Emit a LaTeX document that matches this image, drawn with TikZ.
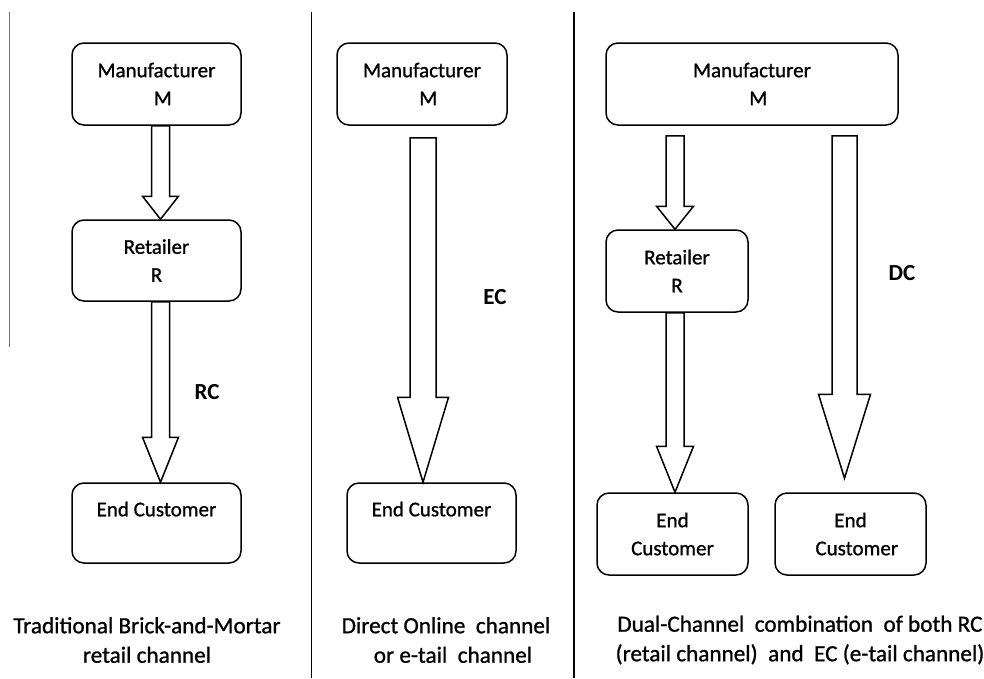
\documentclass[tikz,border=0pt]{standalone}
\usepackage{fontspec}
\setmainfont{Carlito}
\newfontfamily\heavyish{Carlito}[FakeBold=0.9]
\usetikzlibrary{calc}
\tikzset{
  box/.style={draw, line width=1.5pt, rounded corners=12pt, align=center, inner sep=0pt,
    font=\fontsize{21}{28}\heavyish},
  barrowstyle/.style={draw, line width=1.5pt, line join=miter, fill=white},
  chlabel/.style={font=\fontsize{23}{28}\selectfont\bfseries},
  caption/.style={align=center, font=\fontsize{23.2}{29.5}\heavyish},
  divider/.style={line width=1.7pt, black},
  thinline/.style={line width=0.9pt, black!55}
}
% #1 start coordinate, #2 tip coordinate, #3 half shaft, #4 half head, #5 head length
\newcommand\blockarrow[5]{%
  \draw[barrowstyle] let \p1=(#1), \p2=(#2) in
    (\x1-#3pt,\y1) -- (\x1+#3pt,\y1) -- (\x1+#3pt,\y2+#5pt) -- (\x1+#4pt,\y2+#5pt)
    -- (\x1,\y2) -- (\x1-#4pt,\y2+#5pt) -- (\x1-#3pt,\y2+#5pt) -- cycle;}
\begin{document}
\begin{tikzpicture}[x=1pt,y=-1pt]
\useasboundingbox[fill=white] (0,0) rectangle (984,678);
% separators
\draw[thinline] (9.5,12) -- (9.5,347);
\draw[divider] (311.5,12) -- (311.5,678);
\draw[divider] (574,12) -- (574,678);

% ---- panel 1
\node[box, minimum width=169pt, minimum height=82pt] (m1) at (156.5,84) {Manufacturer\\\hspace*{0.6em}M};
\node[box, minimum width=169pt, minimum height=81pt] (r1) at (156.5,260.5) {Retailer\\R};
\node[box, minimum width=169pt, minimum height=80pt] (e1) at (156.5,523) {End Customer\\~};
\coordinate (a1s) at ($(m1.south)+(4,0)$);
\coordinate (a1t) at ($(r1.north)+(4,0)$);
\coordinate (a2s) at ($(r1.south)+(4,0)$);
\coordinate (a2t) at ($(e1.north)+(4,0)$);
\blockarrow{a1s}{a1t}{9}{18}{23}
\blockarrow{a2s}{a2t}{9}{18}{45}
\node[chlabel] (rc) at (207,392) {RC};
\node[caption] (c1) at (147,640) {Traditional Brick-and-Mortar\\retail channel};

% ---- panel 2
\node[box, minimum width=170pt, minimum height=82pt] (m2) at (422,84) {Manufacturer\\\hspace*{0.6em}M};
\node[box, minimum width=169pt, minimum height=80pt] (e2) at (431.5,523) {End Customer\\~};
\coordinate (a3s) at ($(m2.south)+(1,12)$);
\coordinate (a3t) at ($(e2.north)+(-8.5,0)$);
\blockarrow{a3s}{a3t}{13}{25.5}{85}
\node[chlabel] (ec) at (495,297) {EC};
\node[caption] (c2) at (446,640) {Direct Online\ \ channel\\\hspace*{0.6em}or e-tail\ \ channel};

% ---- panel 3
\node[box, minimum width=292pt, minimum height=82pt] (m3) at (752,84) {Manufacturer\\\hspace*{0.6em}M};
\node[box, minimum width=142pt, minimum height=82pt] (r3) at (677,271) {Retailer\\R};
\node[box, minimum width=151pt, minimum height=82pt] (e3a) at (672.5,534) {End\\Customer};
\node[box, minimum width=151pt, minimum height=82pt] (e3b) at (850.5,534) {End\\\hspace*{0.6em}Customer};
\coordinate (a4s) at ($(m3.south)+(-77,10)$);
\coordinate (a4t) at ($(r3.north)+(-2,0)$);
\coordinate (a5s) at ($(r3.south)+(-2,0)$);
\coordinate (a5t) at ($(e3a.north)+(2.5,0)$);
\coordinate (a6s) at ($(m3.south)+(92.5,10)$);
\coordinate (a6t) at ($(e3b.north)+(-6,-14)$);
\blockarrow{a4s}{a4t}{9}{18.5}{23}
\blockarrow{a5s}{a5t}{9}{18.5}{46}
\blockarrow{a6s}{a6t}{12.5}{26}{84}
\node[chlabel] (dc) at (902,273) {DC};
\node[caption] (c3) at (800,640) {Dual-Channel\ \ combination\ \ of both RC\\(retail channel)\ \ and\ \ EC (e-tail channel)};
\end{tikzpicture}
\end{document}
